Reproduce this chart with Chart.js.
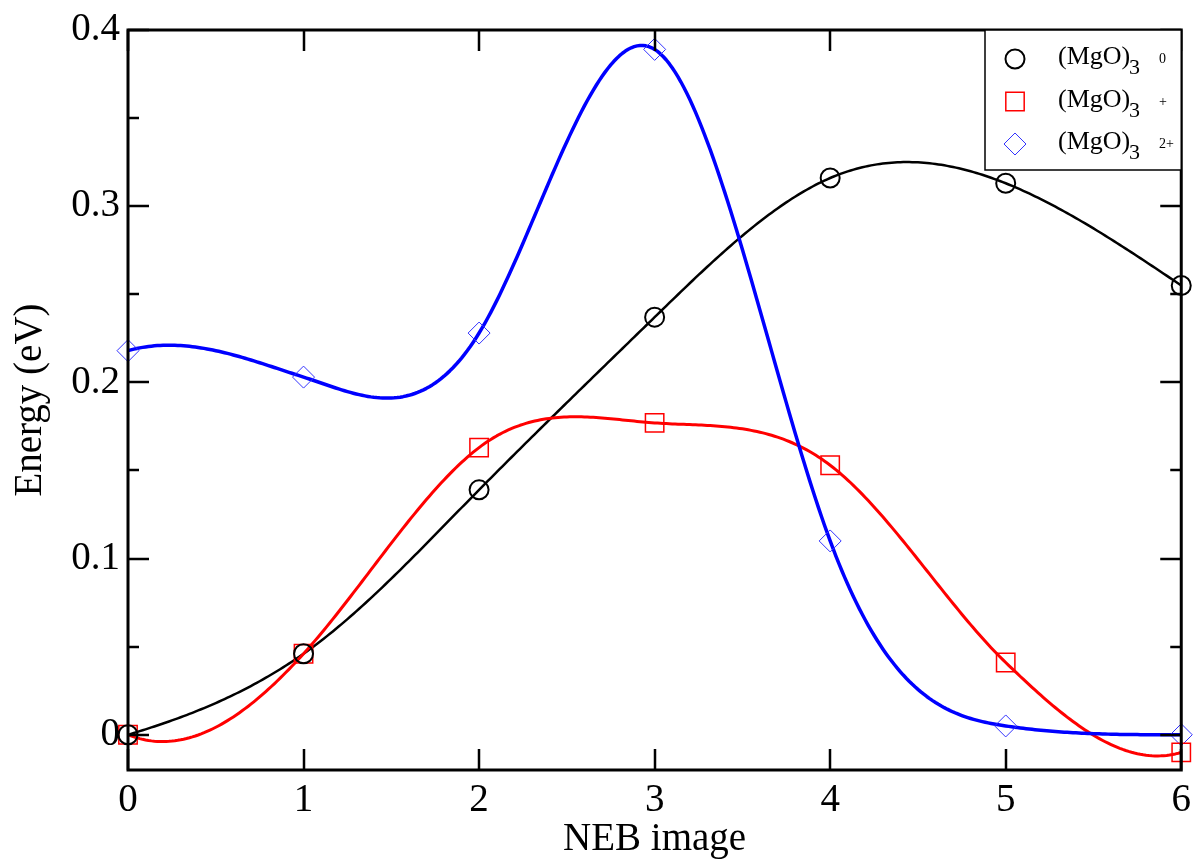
<!DOCTYPE html>
<html>
<head>
<meta charset="utf-8">
<script src="https://cdn.jsdelivr.net/npm/chart.js@4.4.1/dist/chart.umd.min.js"></script>
<style>
  body { margin: 0; background: #ffffff; }
  canvas { display: block; }
</style>
</head>
<body>
<canvas id="nebChart" width="1202" height="865"></canvas>
<script>
// NEB images along the path
var nebImages = [0, 1, 2, 3, 4, 5, 6];

// energies (eV)
var energyNeutral  = [0.000, 0.046, 0.139, 0.237, 0.316, 0.313, 0.255];
var energyCation   = [0.000, 0.046, 0.163, 0.177, 0.153, 0.041, -0.010];
var energyDication = [0.218, 0.203, 0.228, 0.389, 0.110, 0.005, 0.000];

// path slopes dE/d(image) at each image, estimated from the drawn curves
var slopeNeutral  = [0.030, 0.070, 0.101, 0.097, 0.043, -0.040, -0.067];
var slopeCation   = [-0.040, 0.110, 0.076, -0.007, -0.076, -0.096, 0.030];
var slopeDication = [0.028, -0.032, 0.163, -0.062, -0.269, -0.015, 0.000];

var legendCharges = ['0', '+', '2+'];
var seriesColors = ['#000000', '#ff0000', '#0000ff'];

var xTicks = [0, 1, 2, 3, 4, 5, 6];
var yTicks = [0, 0.1, 0.2, 0.3, 0.4];
var yMinorTicks = [0.05, 0.15, 0.25, 0.35];

var serif = "'Liberation Serif', 'DejaVu Serif', serif";

function toPoints(ys) {
  return nebImages.map(function (x, i) { return { x: x, y: ys[i] }; });
}

// cubic hermite segment between two images using energies + slopes
function hermite(y0, y1, m0, m1, h, t) {
  var t2 = t * t, t3 = t2 * t;
  return (2 * t3 - 3 * t2 + 1) * y0 + (t3 - 2 * t2 + t) * h * m0 +
    (-2 * t3 + 3 * t2) * y1 + (t3 - t2) * h * m1;
}

var curvePlugin = {
  id: 'nebCurves',
  beforeDatasetsDraw: function (chart) {
    var ctx = chart.ctx, area = chart.chartArea;
    var xs = chart.scales.x, ys = chart.scales.y;
    ctx.save();
    ctx.beginPath();
    ctx.rect(area.left, area.top, area.right - area.left, area.bottom - area.top);
    ctx.clip();
    chart.data.datasets.forEach(function (ds) {
      var pts = ds.data, m = ds.slopes, steps = 60;
      ctx.beginPath();
      for (var k = 0; k < pts.length - 1; k++) {
        var h = pts[k + 1].x - pts[k].x;
        for (var s = 0; s <= steps; s++) {
          var t = s / steps;
          var X = xs.getPixelForValue(pts[k].x + h * t);
          var Y = ys.getPixelForValue(hermite(pts[k].y, pts[k + 1].y, m[k], m[k + 1], h, t));
          if (k === 0 && s === 0) ctx.moveTo(X, Y); else ctx.lineTo(X, Y);
        }
      }
      ctx.strokeStyle = ds.borderColor;
      ctx.lineWidth = ds.curveWidth;
      ctx.lineJoin = 'round';
      ctx.stroke();
    });
    ctx.restore();
  }
};

var framePlugin = {
  id: 'frameAndLegend',
  afterDraw: function (chart) {
    var ctx = chart.ctx, area = chart.chartArea;
    var xs = chart.scales.x, ys = chart.scales.y;
    ctx.save();
    ctx.strokeStyle = '#000';
    ctx.lineWidth = 2.5;
    ctx.lineCap = 'butt';
    ctx.beginPath();
    xTicks.forEach(function (v) {
      var X = Math.round(xs.getPixelForValue(v));
      ctx.moveTo(X, area.bottom); ctx.lineTo(X, area.bottom - 21);
      ctx.moveTo(X, area.top); ctx.lineTo(X, area.top + 21);
    });
    yTicks.forEach(function (v) {
      var Y = Math.round(ys.getPixelForValue(v));
      ctx.moveTo(area.left, Y); ctx.lineTo(area.left + 21, Y);
      ctx.moveTo(area.right, Y); ctx.lineTo(area.right - 21, Y);
    });
    yMinorTicks.forEach(function (v) {
      var Y = Math.round(ys.getPixelForValue(v));
      ctx.moveTo(area.left, Y); ctx.lineTo(area.left + 11, Y);
      ctx.moveTo(area.right, Y); ctx.lineTo(area.right - 11, Y);
    });
    ctx.stroke();
    ctx.lineWidth = 3;
    ctx.strokeRect(area.left, area.top, area.right - area.left, area.bottom - area.top);

    // legend box
    var lx = 985, ly = area.top, lw = area.right - lx, lh = 140;
    ctx.fillStyle = '#fff';
    ctx.fillRect(lx, ly, lw, lh);
    ctx.lineWidth = 1.5;
    ctx.strokeRect(lx, ly, lw, lh);
    chart.data.datasets.forEach(function (ds, i) {
      var cy = ly + 29 + i * 42.5;
      ctx.save();
      ctx.lineWidth = ds.pointBorderWidth;
      ctx.strokeStyle = ds.pointBorderColor;
      ctx.fillStyle = 'rgba(0,0,0,0)';
      Chart.helpers.drawPoint(ctx, { pointStyle: ds.pointStyle, radius: ds.pointRadius, borderWidth: ds.pointBorderWidth }, 1015, cy);
      ctx.restore();
      ctx.fillStyle = '#000';
      ctx.textBaseline = 'alphabetic';
      ctx.textAlign = 'left';
      ctx.font = '26px ' + serif;
      ctx.fillText('(MgO)', 1058, cy + 5);
      ctx.font = '22px ' + serif;
      ctx.fillText('3', 1129, cy + 15);
      ctx.font = '14px ' + serif;
      ctx.fillText(legendCharges[i], 1159, cy + 4);
    });
    ctx.restore();
  }
};

var ctx = document.getElementById('nebChart').getContext('2d');
var chart = new Chart(ctx, {
  type: 'scatter',
  data: {
    datasets: [
      {
        label: '(MgO)3 0',
        data: toPoints(energyNeutral),
        slopes: slopeNeutral,
        borderColor: seriesColors[0],
        pointBorderColor: seriesColors[0],
        pointBackgroundColor: 'transparent',
        pointStyle: 'circle',
        pointRadius: 9.5,
        pointBorderWidth: 2,
        curveWidth: 2.5,
        showLine: false,
        clip: false
      },
      {
        label: '(MgO)3 +',
        data: toPoints(energyCation),
        slopes: slopeCation,
        borderColor: seriesColors[1],
        pointBorderColor: seriesColors[1],
        pointBackgroundColor: 'transparent',
        pointStyle: 'rect',
        pointRadius: 13,
        pointBorderWidth: 1.5,
        curveWidth: 3,
        showLine: false,
        clip: false
      },
      {
        label: '(MgO)3 2+',
        data: toPoints(energyDication),
        slopes: slopeDication,
        borderColor: seriesColors[2],
        pointBorderColor: '#3333ff',
        pointBackgroundColor: 'transparent',
        pointStyle: 'rectRot',
        pointRadius: 11,
        pointBorderWidth: 1,
        curveWidth: 3.5,
        showLine: false,
        clip: false
      }
    ]
  },
  plugins: [curvePlugin, framePlugin],
  options: {
    responsive: false,
    animation: false,
    devicePixelRatio: 1,
    layout: { padding: { top: 30, right: 18, left: 0, bottom: 0 } },
    plugins: {
      legend: { display: false },
      tooltip: { enabled: false }
    },
    scales: {
      x: {
        type: 'linear',
        min: 0,
        max: 6,
        afterBuildTicks: function (scale) {
          scale.ticks = xTicks.map(function (v) { return { value: v }; });
        },
        afterFit: function (scale) { scale.height = 95; },
        grid: { display: false, drawTicks: false },
        border: { display: false },
        ticks: {
          color: '#000',
          padding: 11,
          maxRotation: 0,
          font: { family: serif, size: 39, lineHeight: 1 },
          callback: function (v) { return String(v); }
        },
        title: {
          display: true,
          text: 'NEB image',
          color: '#000',
          padding: { top: 0, bottom: 6 },
          font: { family: serif, size: 39, lineHeight: 1 }
        }
      },
      y: {
        type: 'linear',
        min: -0.02,
        max: 0.4,
        afterBuildTicks: function (scale) {
          scale.ticks = yTicks.map(function (v) { return { value: v }; });
        },
        afterFit: function (scale) { scale.width = 128; },
        grid: { display: false, drawTicks: false },
        border: { display: false },
        ticks: {
          color: '#000',
          padding: 8,
          font: { family: serif, size: 39, lineHeight: 1 },
          callback: function (v) { return v === 0 ? '0' : v.toFixed(1); }
        },
        title: {
          display: true,
          text: 'Energy (eV)',
          color: '#000',
          padding: { top: 11, bottom: 0 },
          font: { family: serif, size: 39, lineHeight: 1 }
        }
      }
    }
  }
});
</script>
</body>
</html>
